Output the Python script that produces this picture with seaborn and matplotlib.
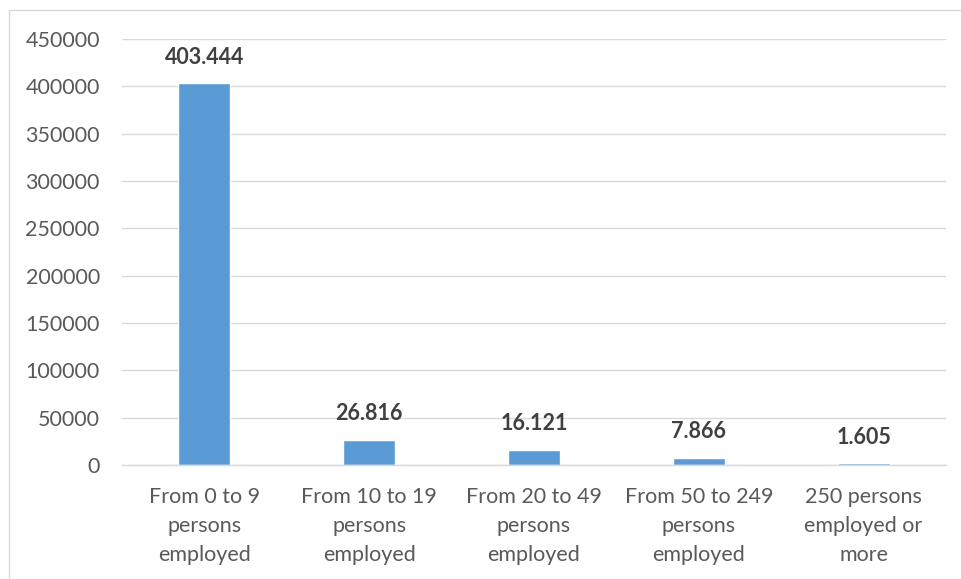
import matplotlib
matplotlib.use("Agg")
import matplotlib.pyplot as plt
import seaborn as sns
import pandas as pd
from matplotlib.patches import Rectangle

categories = ["From 0 to 9\npersons\nemployed", "From 10 to 19\npersons\nemployed",
              "From 20 to 49\npersons\nemployed", "From 50 to 249\npersons\nemployed",
              "250 persons\nemployed or\nmore"]
values = [403444, 26816, 16121, 7866, 1605]
value_labels = ["403.444", "26.816", "16.121", "7.866", "1.605"]
yticks = [0, 50000, 100000, 150000, 200000, 250000, 300000, 350000, 400000, 450000]

sns.set_theme(style="white")
plt.rcParams['font.family'] = ['Lato', 'DejaVu Sans']

df = pd.DataFrame({"cat": categories, "val": values})

fig = plt.figure(figsize=(9.61, 5.79), dpi=100)
ax = fig.add_axes([122/961, 1 - 465/579, (946-122)/961, (465-39)/579])

sns.barplot(data=df, x="cat", y="val", color="#5B9BD5", width=0.315, ax=ax, saturation=1)

ax.set_xlim(-0.5, 4.5)
ax.set_ylim(0, 450000)
ax.set_yticks(yticks)
ax.set_yticklabels([str(t) for t in yticks])
ax.yaxis.grid(True, color="#d9d9d9", linewidth=1)
ax.set_axisbelow(True)
for s in ["top", "right", "left"]:
    ax.spines[s].set_visible(False)
ax.spines["bottom"].set_color("#d9d9d9")
ax.spines["bottom"].set_linewidth(1)
ax.set_xlabel("")
ax.set_ylabel("")
ax.tick_params(axis="both", length=0, colors="#595959", labelsize=15.5)
ax.tick_params(axis="x", pad=16)
ax.tick_params(axis="y", pad=16)
for lbl in ax.get_xticklabels():
    lbl.set_linespacing(1.55)

for i, (v, t) in enumerate(zip(values, value_labels)):
    ax.annotate(t, (i, v), xytext=(0, 11), textcoords="offset points",
                ha="center", va="bottom", fontsize=15.5, fontweight="bold", color="#404040")

fig.patches.append(Rectangle((9/961, -0.1), 1.2, (579-10)/579 + 0.1, transform=fig.transFigure,
                             fill=False, edgecolor="#d9d9d9", linewidth=1))

fig.savefig("out.png", dpi=100)
